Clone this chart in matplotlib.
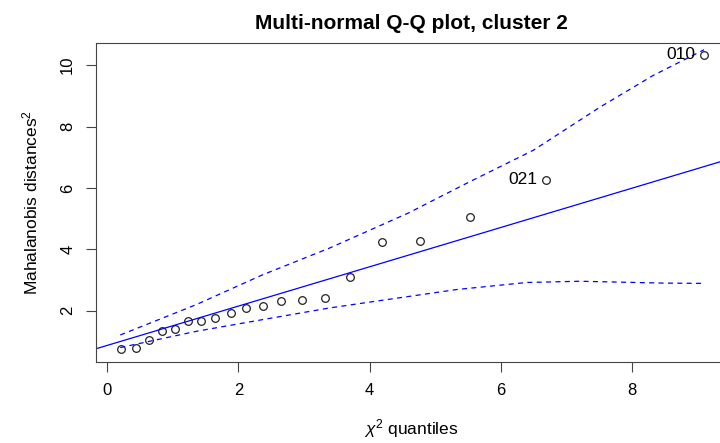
import matplotlib.pyplot as plt

plt.rcParams['font.family'] = ['Liberation Sans', 'DejaVu Sans']
plt.rcParams['mathtext.fontset'] = 'custom'
plt.rcParams['mathtext.rm'] = 'Liberation Sans'
plt.rcParams['mathtext.it'] = 'Liberation Sans:italic'

# chi-square quantiles vs squared Mahalanobis distances
chi2_q = [0.21, 0.44, 0.64, 0.84, 1.04, 1.23, 1.43, 1.65, 1.89, 2.11,
          2.37, 2.65, 2.97, 3.32, 3.71, 4.19, 4.77, 5.53, 6.69, 9.10]
mahal_d2 = [0.75, 0.80, 1.05, 1.33, 1.40, 1.66, 1.66, 1.77, 1.91, 2.08,
            2.14, 2.32, 2.36, 2.40, 3.10, 4.23, 4.27, 5.05, 6.26, 10.34]
labels = {18: "021", 19: "010"}

# reference line
line_int = 0.87
line_slope = 0.64

# confidence envelope
env_x = [0.2, 1.36, 2.37, 3.39, 4.59, 5.48, 6.50, 7.52, 8.33, 9.10]
env_upper = [1.21, 2.20, 3.17, 4.04, 5.18, 6.15, 7.23, 8.64, 9.67, 10.5]
env_lx = [0.2, 1.36, 2.37, 3.39, 4.16, 5.33, 6.40, 7.21, 8.48, 9.12]
env_lower = [0.80, 1.33, 1.71, 2.09, 2.33, 2.69, 2.92, 2.96, 2.90, 2.89]

fig = plt.figure(figsize=(7.2, 4.43), dpi=100)
ax = fig.add_axes([96 / 720, 81 / 443, 631 / 720, 319 / 443])

ax.plot(chi2_q, mahal_d2, 'o', mfc='none', mec='#222222', ms=5.5, mew=0.9)
for i, txt in labels.items():
    ax.annotate(txt, (chi2_q[i], mahal_d2[i]), xytext=(-6, 0),
                textcoords='offset points', ha='right', va='center', fontsize=12.5)

ax.axline((0, line_int), slope=line_slope, color='blue', lw=0.9)
ax.plot(env_x, env_upper, color='blue', lw=0.9, ls=(0, (4, 3.5)))
ax.plot(env_lx, env_lower, color='blue', lw=0.9, ls=(0, (4, 3.5)))

ax.set_xlim(-0.17, 9.45)
ax.set_ylim(0.33, 10.72)
ax.set_xticks([0, 2, 4, 6, 8])
ax.set_yticks([2, 4, 6, 8, 10])
ax.tick_params(direction='out', length=7, labelsize=12, pad=8, color='#444444')
for lab in ax.get_yticklabels():
    lab.set_rotation(90)
    lab.set_va('center')
for s in ax.spines.values():
    s.set_color('#444444')

ax.set_title("Multi-normal Q-Q plot, cluster 2", fontsize=15, fontweight='bold', pad=10)
ax.set_xlabel(r"$\chi^2$ quantiles", fontsize=12.5, labelpad=14)
ax.set_ylabel(r"Mahalanobis distances$^2$", fontsize=12.5, labelpad=14)

fig.savefig("out.png", dpi=100)
